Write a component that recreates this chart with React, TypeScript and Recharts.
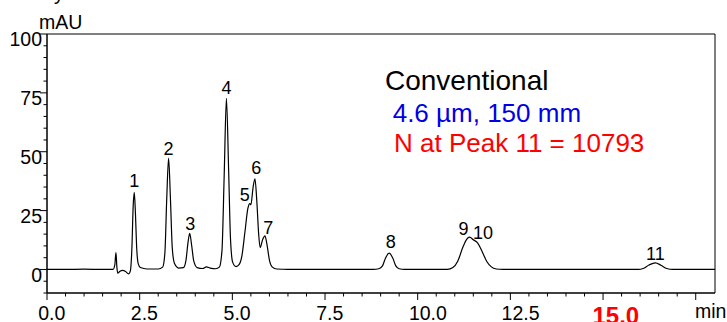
import React from 'react';
import { ComposedChart, Line, Scatter, XAxis, YAxis, ReferenceArea } from 'recharts';

// chromatogram trace (time in min, absorbance in mAU)
const traceTimes = [
  0, 0.5, 1.0, 1.5, 1.78, 1.83, 1.86, 1.885, 1.91, 1.96, 2.04, 2.12, 2.2, 2.25,
  2.29, 2.325, 2.355, 2.385, 2.42, 2.46, 2.52, 2.7, 3.0, 3.12, 3.18, 3.23, 3.28,
  3.33, 3.38, 3.44, 3.55, 3.68, 3.75, 3.8, 3.85, 3.9, 3.96, 4.05, 4.2, 4.3, 4.4,
  4.55, 4.65, 4.72, 4.78, 4.84, 4.9, 4.95, 5.01, 5.1, 5.18, 5.26, 5.34, 5.42,
  5.47, 5.5, 5.56, 5.61, 5.66, 5.71, 5.75, 5.82, 5.88, 5.93, 6.0, 6.08, 6.2,
  6.5, 8.8, 8.95, 9.05, 9.13, 9.23, 9.33, 9.41, 9.5, 9.65, 10.8, 10.95, 11.08,
  11.22, 11.32, 11.4, 11.5, 11.62, 11.74, 11.86, 11.98, 12.12, 12.3, 15.95,
  16.08, 16.24, 16.41, 16.56, 16.72, 16.88, 18.02,
];
const traceValues = [
  0, 0, 0.1, 0, 0, 2, 7.2, 1, -1.6, -0.9, -0.4, -0.9, -1.9, -0.5,
  9, 27, 32.7, 24, 9, 2.5, 0.8, 0.2, 0.2, 1, 7, 30, 47.3,
  30, 9, 2.5, 0.6, 0.8, 4, 11, 15.3, 10.5, 3.5, 0.8, 0.4, 1.1, 0.6,
  0.3, 1, 8, 40, 72.7, 42, 13, 3, 1.2, 2, 6, 16, 26,
  28, 27.5, 35, 38.5, 29, 15, 9.3, 12.8, 14.3, 11, 4, 1, 0.2,
  0, 0, 0.3, 1.5, 4.8, 6.9, 4.8, 1.5, 0.3, 0, 0, 0.8, 3.5,
  9.5, 12.8, 13.7, 12.6, 11.2, 7.5, 3.5, 1.2, 0.2, 0, 0,
  0.4, 1.9, 2.8, 1.8, 0.4, 0, 0,
];

// peak numbers and apex positions
const peakNames = ['1', '2', '3', '4', '5', '6', '7', '8', '9', '10', '11'];
const peakTimes = [2.355, 3.28, 3.85, 4.84, 5.47, 5.61, 5.88, 9.23, 11.4, 11.62, 16.41];
const peakHeights = [32.7, 47.3, 15.3, 72.7, 28, 38.5, 14.3, 6.9, 13.7, 11.2, 2.8];

const xTicks = [0, 0.5, 1, 1.5, 2, 2.5, 3, 3.5, 4, 4.5, 5, 5.5, 6, 6.5, 7, 7.5, 8, 8.5, 9, 9.5,
  10, 10.5, 11, 11.5, 12, 12.5, 13, 13.5, 14, 14.5, 15, 15.5, 16, 16.5, 17, 17.5];
const xLabels = ['0.0', '2.5', '5.0', '7.5', '10.0', '12.5', '15.0'];
const yTicks = [-10, -5, 0, 5, 10, 15, 20, 25, 30, 35, 40, 45, 50, 55, 60, 65, 70, 75, 80, 85, 90, 95, 100];
const yLabels = ['0', '25', '50', '75', '100'];

const traceData = traceTimes.map((t, i) => ({ t, v: traceValues[i] }));
const peakData = peakNames.map((name, i) => ({ name, t: peakTimes[i], h: peakHeights[i] }));

const FONT = '"Liberation Sans", Arial, sans-serif';
const PLOT_LEFT = 47;
const PLOT_BOTTOM = 293;

// where each peak number sits relative to its apex
const labelNudge: Record<string, [number, number]> = {
  '1': [0, -11.7], '2': [0, -10], '3': [0.5, -9.7], '4': [0, -10.3], '5': [-5, -9.4],
  '6': [1.3, -11.6], '7': [3.3, -8.3], '8': [1.7, -11.6], '9': [-6, -8.4],
  '10': [5.3, -10.5], '11': [0, -9.6],
};

const XTick = (props: any) => {
  const v = props.payload.value;
  const x = props.payload.coordinate ?? props.x;
  const major = Math.abs(v / 2.5 - Math.round(v / 2.5)) < 1e-6;
  const label = xLabels.find((l) => Math.abs(parseFloat(l) - v) < 1e-6);
  return (
    <g>
      <line x1={x} x2={x} y1={PLOT_BOTTOM} y2={PLOT_BOTTOM + (major ? 7 : 3.5)} stroke="#000" />
      {label && label === '15.0' ? (
        <text x={x - 10.6} y={324} fill="#ff0000" fontSize={24} fontWeight="bold" fontFamily={FONT}>{label}</text>
      ) : label ? (
        <text x={x - 8.8} y={320} fill="#000" fontSize={19.5} fontFamily={FONT}>{label}</text>
      ) : null}
    </g>
  );
};

const YTick = (props: any) => {
  const v = props.payload.value;
  const y = props.payload.coordinate ?? props.y;
  const label = yLabels.find((l) => parseFloat(l) === v);
  const major = v % 25 === 0;
  return (
    <g>
      <line x1={PLOT_LEFT - (major ? 7 : 3.5)} x2={PLOT_LEFT} y1={y} y2={y} stroke="#000" />
      {label && (
        <text x={42} y={y + 12.3} textAnchor="end" fill="#000" fontSize={19.5} fontFamily={FONT}>{label}</text>
      )}
    </g>
  );
};

const PeakLabel = (props: any) => {
  const [dx, dy] = labelNudge[props.payload.name] || [0, -10];
  return (
    <text x={props.cx + dx} y={props.cy + dy + 6.5} textAnchor="middle" fill="#000" fontSize={18} fontFamily={FONT}>
      {props.payload.name}
    </text>
  );
};

export default function App() {
  return (
    <div style={{ position: 'absolute', left: 0, top: 0, width: 727, height: 322, background: '#fff', overflow: 'hidden' }}>
      <ComposedChart width={727} height={322} margin={{ top: 34, right: 12, left: 0, bottom: 0 }}>
        <XAxis
          type="number"
          dataKey="t"
          domain={[0, 18.02]}
          ticks={xTicks}
          interval={0}
          allowDataOverflow
          height={29}
          tickSize={0}
          tickMargin={0}
          tickLine={false}
          axisLine={{ stroke: '#000' }}
          tick={<XTick />}
        />
        <YAxis
          type="number"
          domain={[-10, 100]}
          ticks={yTicks}
          interval={0}
          allowDataOverflow
          width={47}
          tickSize={0}
          tickMargin={0}
          tickLine={false}
          axisLine={{ stroke: '#000' }}
          tick={<YTick />}
        />
        <ReferenceArea x1={0} x2={18.02} y1={-10} y2={100} fill="none" stroke="#000" strokeWidth={1} ifOverflow="visible" />
        <Line
          data={traceData}
          dataKey="v"
          type="monotone"
          stroke="#000"
          strokeWidth={1.2}
          dot={false}
          isAnimationActive={false}
        />
        <Scatter data={peakData} dataKey="h" shape={<PeakLabel />} isAnimationActive={false} />
      </ComposedChart>
      <svg width={727} height={322} style={{ position: 'absolute', left: 0, top: 0, pointerEvents: 'none' }}>
        <text x={54} y={0} fontSize={20} fontFamily={FONT} fill="#000">y</text>
        <text x={39} y={29} fontSize={19.5} fontFamily={FONT} fill="#000">mAU</text>
        <text x={385} y={90} fontSize={28} fontFamily={FONT} fill="#000">Conventional</text>
        <text x={392.7} y={121.7} fontSize={26} fontFamily={FONT} fill="#0000e6">4.6 µm, 150 mm</text>
        <text x={394} y={151.7} fontSize={26} fontFamily={FONT} fill="#ff0000">N at Peak 11 = 10793</text>
        <text x={695} y={318} fontSize={19.5} fontFamily={FONT} fill="#000">min</text>
      </svg>
    </div>
  );
}
